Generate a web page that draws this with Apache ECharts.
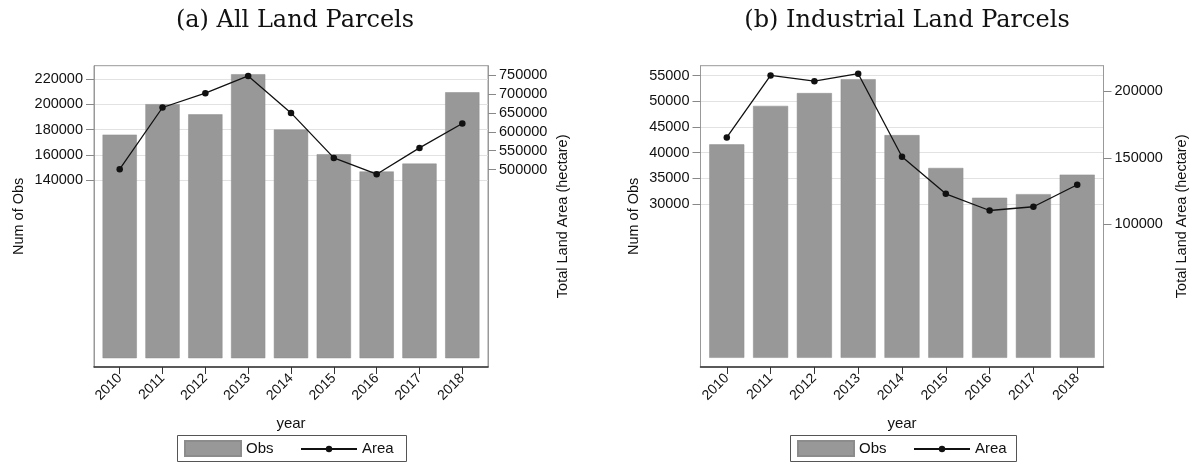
<!DOCTYPE html>
<html>
<head>
<meta charset="utf-8">
<script src="https://cdn.jsdelivr.net/npm/echarts@6/dist/echarts.min.js"></script>
<style>
html,body{margin:0;padding:0;background:#fff;}
#chart{width:1193px;height:463px;}
</style>
</head>
<body>
<div id="chart"></div>
<script>
// ---- data ----
const years = ['2010','2011','2012','2013','2014','2015','2016','2017','2018'];
const allObs  = [176000, 200000, 192000, 223600, 180000, 160600, 147000, 153200, 209400];
const allArea = [501000, 664600, 702500, 748400, 650300, 531000, 487800, 557500, 622200];
const indObs  = [41600, 49100, 51600, 54300, 43400, 37000, 31200, 31900, 35700];
const indArea = [165300, 211800, 207500, 213100, 150800, 123000, 110500, 113300, 129800];
const allObsTicks  = [140000, 160000, 180000, 200000, 220000];
const allAreaTicks = [500000, 550000, 600000, 650000, 700000, 750000];
const indObsTicks  = [30000, 35000, 40000, 45000, 50000, 55000];
const indAreaTicks = [100000, 150000, 200000];
const titles = ['(a) All Land Parcels', '(b) Industrial Land Parcels'];

// ---- helpers ----
const SANS = '"Liberation Sans", Arial, sans-serif';
const idx = years.map((y, i) => i);
const pairs = arr => arr.map((v, i) => [i, v]);

function xAxisFor(gi) {
  return {
    type: 'value', gridIndex: gi, min: -0.6, max: 8.6,
    name: 'year', nameLocation: 'middle', nameGap: 49,
    nameTextStyle: { fontFamily: SANS, fontSize: 15, color: '#111' },
    axisLine: { show: true, onZero: false, lineStyle: { color: '#333', width: 1.5 } },
    axisTick: { show: true, customValues: idx, length: 7, lineStyle: { color: '#333' } },
    axisLabel: { customValues: idx, rotate: 45, margin: 9, fontFamily: SANS, fontSize: 14, color: '#111',
                 formatter: v => years[Math.round(v)] },
    splitLine: { show: false }
  };
}
function yAxisFor(gi, pos, min, max, ticks, name, gap, grid) {
  return {
    type: 'value', gridIndex: gi, position: pos, min: min, max: max,
    name: name, nameLocation: 'middle', nameRotate: 90, nameGap: gap,
    nameTextStyle: { fontFamily: SANS, fontSize: 14.5, color: '#111' },
    axisLine: { show: true, onZero: false, lineStyle: { color: '#999', width: 1 } },
    axisTick: { show: true, customValues: ticks, length: 8, lineStyle: { color: '#888' } },
    axisLabel: { customValues: ticks, margin: 11, fontFamily: SANS, fontSize: 14.5, color: '#111',
                 formatter: v => String(v) },
    splitLine: { show: grid, lineStyle: { color: '#e2e2e2', width: 1 } }
  };
}
function legendPart(left, top, name, icon, h) {
  const d = icon ? { name: name, icon: icon } : { name: name };
  return { left: left, top: top, orient: 'horizontal', itemWidth: 56, itemHeight: h, itemGap: 10,
           padding: 0, itemTextGap: 8, selectedMode: false,
           textStyle: { fontFamily: SANS, fontSize: 15, color: '#111' }, data: [d] };
}
function legendBox(x, y, w, h) {
  return { type: 'rect', silent: true, z: 100,
           shape: { x: x, y: y, width: w, height: h },
           style: { fill: 'none', stroke: '#555', lineWidth: 1 } };
}

const option = {
  animation: false,
  backgroundColor: '#fff',
  title: [
    { text: titles[0], left: 290, top: 4, textAlign: 'center',
      textStyle: { fontFamily: '"DejaVu Serif", serif', fontWeight: 'normal', fontSize: 24, color: '#111' } },
    { text: titles[1], left: 902, top: 4, textAlign: 'center',
      textStyle: { fontFamily: '"DejaVu Serif", serif', fontWeight: 'normal', fontSize: 24, color: '#111' } }
  ],
  grid: [
    { left: 94, top: 65.7, width: 394, height: 301.3, show: true, borderColor: '#999', borderWidth: 1 },
    { left: 700.5, top: 65.7, width: 403, height: 301.3, show: true, borderColor: '#999', borderWidth: 1 }
  ],
  legend: [
    legendPart(184, 440, 'Obs', 'rect', 15),
    legendPart(300, 441.5, 'Area', null, 8),
    legendPart(797, 440, 'Obs', 'rect', 15),
    legendPart(913, 441.5, 'Area', null, 8)
  ],
  graphic: [
    legendBox(177.5, 435.5, 229, 26),
    legendBox(790.5, 435.5, 226, 26)
  ],
  xAxis: [ xAxisFor(0), xAxisFor(1) ],
  yAxis: [
    yAxisFor(0, 'left', -6930, 230300, allObsTicks, 'Num of Obs', 68, true),
    yAxisFor(0, 'right', -23330, 775400, allAreaTicks, 'Total Land Area (hectare)', 67, false),
    yAxisFor(1, 'left', -1790, 56930, indObsTicks, 'Num of Obs', 59, true),
    yAxisFor(1, 'right', -6900, 219100, indAreaTicks, 'Total Land Area (hectare)', 71, false)
  ],
  series: [
    { name: 'Obs', type: 'bar', xAxisIndex: 0, yAxisIndex: 0, barWidth: '80%',
      itemStyle: { color: '#989898', borderColor: '#8c8c8c', borderWidth: 0.5 }, data: pairs(allObs) },
    { name: 'Area', type: 'line', xAxisIndex: 0, yAxisIndex: 1, symbol: 'circle', symbolSize: 6.5,
      lineStyle: { color: '#111', width: 1.3 }, itemStyle: { color: '#111' }, data: pairs(allArea) },
    { name: 'Obs', type: 'bar', xAxisIndex: 1, yAxisIndex: 2, barWidth: '80%',
      itemStyle: { color: '#989898', borderColor: '#8c8c8c', borderWidth: 0.5 }, data: pairs(indObs) },
    { name: 'Area', type: 'line', xAxisIndex: 1, yAxisIndex: 3, symbol: 'circle', symbolSize: 6.5,
      lineStyle: { color: '#111', width: 1.3 }, itemStyle: { color: '#111' }, data: pairs(indArea) }
  ]
};
const chart = echarts.init(document.getElementById('chart'), null, { renderer: 'canvas' });
chart.setOption(option);
</script>
</body>
</html>
